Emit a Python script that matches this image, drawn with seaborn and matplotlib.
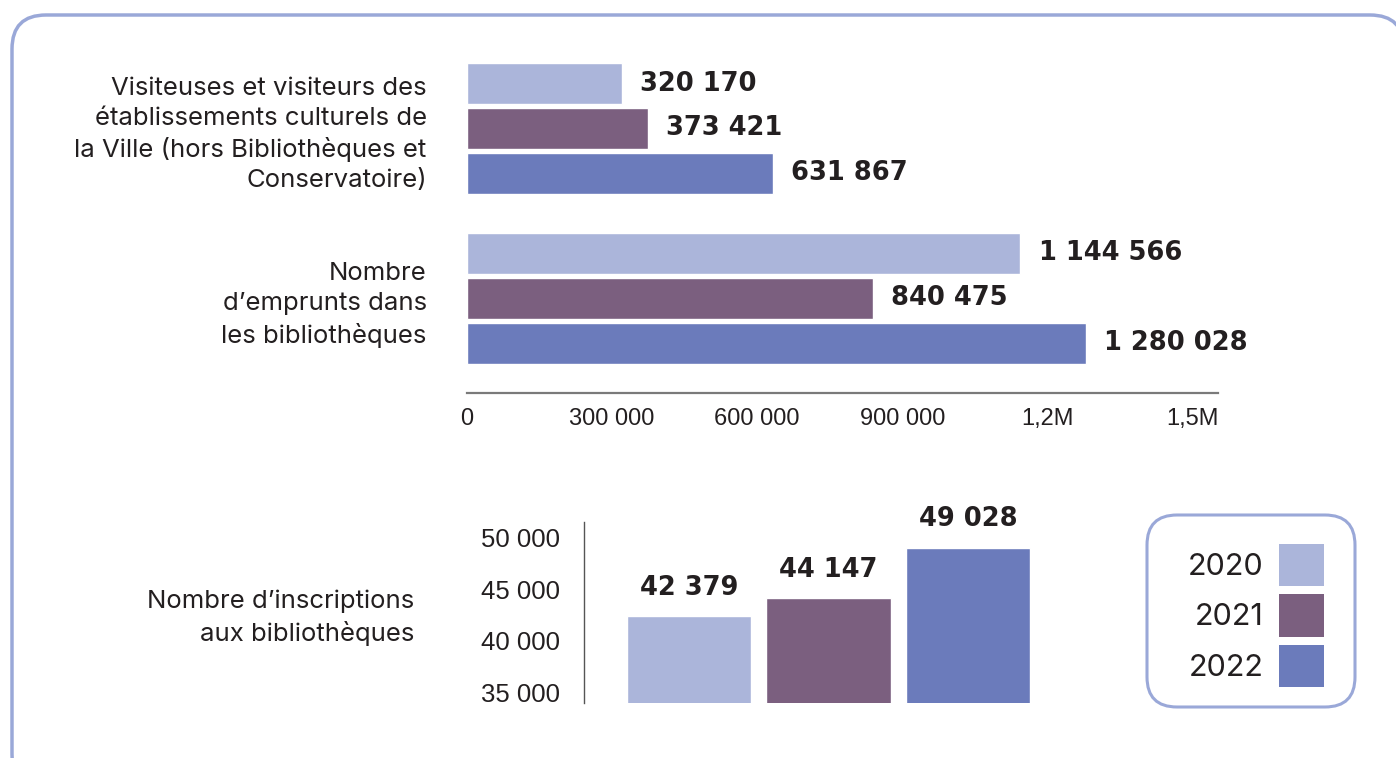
import matplotlib
matplotlib.use("Agg")
import matplotlib.pyplot as plt
import seaborn as sns
import pandas as pd
from matplotlib.patches import FancyBboxPatch, Patch
from matplotlib.transforms import IdentityTransform

# ---- data -------------------------------------------------------------
years = ["2020", "2021", "2022"]
colors = ["#abb5da", "#7b5f7f", "#6b7bbb"]

top_categories = [
    "Visiteuses et visiteurs des\nétablissements culturels de\nla Ville (hors Bibliothèques et\nConservatoire)",
    "Nombre\nd’emprunts dans\nles bibliothèques",
]
visitors = [320170, 373421, 631867]
loans = [1144566, 840475, 1280028]

top_ticks = [0, 300000, 600000, 900000, 1200000, 1500000]
top_tick_labels = ["0", "300 000", "600 000", "900 000", "1,2M", "1,5M"]

registrations_label = "Nombre d’inscriptions\naux bibliothèques"
registrations = [42379, 44147, 49028]
bottom_ticks = [35000, 40000, 45000, 50000]
bottom_tick_labels = ["35 000", "40 000", "45 000", "50 000"]


def fr(v):
    return f"{v:,}".replace(",", " ")


# ---- style ------------------------------------------------------------
sns.set_theme(style="white")
TEXT = "#231f20"
FRAME = "#9aa8d8"
LABEL_FONT = ["Inter", "DejaVu Sans"]
NUM_FONT = ["Liberation Sans", "DejaVu Sans"]
VALUE_FONT = ["DejaVu Sans"]
plt.rcParams["font.family"] = LABEL_FONT
plt.rcParams["text.color"] = TEXT
CAT_SIZE = 18.5
CAT_SPACING = 1.39

W, H = 1396, 758
fig = plt.figure(figsize=(W / 100, H / 100), dpi=100)
fig.patch.set_facecolor("white")

# ---- outer frame (filled white, behind everything) ---------------------
fig.add_artist(FancyBboxPatch((12, -30), 1392, H - 15 + 30,
                              boxstyle="round,pad=0,rounding_size=34",
                              transform=IdentityTransform(), facecolor="white",
                              edgecolor=FRAME, linewidth=2.5, zorder=-5))

# ---- top chart: horizontal grouped bars -------------------------------
top_df = pd.DataFrame({
    "category": [top_categories[0]] * 3 + [top_categories[1]] * 3,
    "year": years * 2,
    "value": visitors + loans,
})

ax1 = fig.add_axes([467 / W, 1 - 393 / H, (1218 - 467) / W, (393 - 43.5) / H])
ax1.patch.set_alpha(0)
sns.barplot(data=top_df, y="category", x="value", hue="year", hue_order=years,
            palette=colors, orient="h", width=0.794, gap=0.09, saturation=1,
            legend=False, ax=ax1)
ax1.set_xlim(0, 1553000)
ax1.set_ylim(1.556, -0.5)
ax1.set_xlabel("")
ax1.set_ylabel("")
for s in ["top", "right", "left"]:
    ax1.spines[s].set_visible(False)
ax1.spines["bottom"].set_color("#7a7a7a")
ax1.spines["bottom"].set_linewidth(1.6)
ax1.set_xticks(top_ticks)
ax1.set_xticklabels(top_tick_labels, fontsize=17, family=NUM_FONT, color=TEXT)
ax1.tick_params(axis="x", length=0, pad=11)
ax1.tick_params(axis="y", length=0, pad=29)
for t in ax1.get_yticklabels():
    t.set_fontsize(CAT_SIZE)
    t.set_color(TEXT)
    t.set_linespacing(CAT_SPACING)
for cont in ax1.containers:
    vals = [b.get_width() for b in cont]
    ax1.bar_label(cont, labels=[fr(int(round(v))) for v in vals], padding=13,
                  fontsize=18.5, fontweight="bold", family=VALUE_FONT, color=TEXT)

# ---- bottom chart: registrations --------------------------------------
bot_df = pd.DataFrame({"year": years, "value": registrations})
ax2 = fig.add_axes([584 / W, 1 - 703 / H, (1038 - 584) / W, (703 - 522) / H])
ax2.patch.set_alpha(0)
sns.barplot(data=bot_df, x="year", y="value", hue="year", hue_order=years,
            palette=colors, width=0.89, saturation=1, legend=False, ax=ax2)
ax2.set_ylim(34000, 51500)
ax2.set_xlim(-0.751, 2.5)
ax2.set_xlabel("")
ax2.set_ylabel("")
for s in ["top", "right", "bottom"]:
    ax2.spines[s].set_visible(False)
ax2.spines["left"].set_color("#555555")
ax2.spines["left"].set_linewidth(1.0)
ax2.set_xticks([])
ax2.set_yticks(bottom_ticks)
ax2.set_yticklabels(bottom_tick_labels, fontsize=18.5, family=NUM_FONT, color=TEXT)
ax2.tick_params(axis="y", length=0, pad=17)
for cont in ax2.containers:
    vals = [b.get_height() for b in cont]
    ax2.bar_label(cont, labels=[fr(int(round(v))) for v in vals], padding=11,
                  fontsize=18.5, fontweight="bold", family=VALUE_FONT, color=TEXT,
                  clip_on=False)

fig.text(414 / W, 1 - 618 / H, registrations_label, ha="right", va="center",
         fontsize=CAT_SIZE, linespacing=CAT_SPACING, color=TEXT)

# ---- legend -----------------------------------------------------------
fig.add_artist(FancyBboxPatch((1147, H - 707), 208, 192,
                              boxstyle="round,pad=0,rounding_size=30",
                              transform=IdentityTransform(), fill=False,
                              edgecolor=FRAME, linewidth=2.2))
handles = [Patch(facecolor=c, edgecolor="none", label=y) for y, c in zip(years, colors)]
fig.legend(handles=handles, loc="center", bbox_to_anchor=(1256 / W, 1 - 615.5 / H),
           frameon=False, markerfirst=False, fontsize=22, handlelength=1.47,
           handleheight=1.76, labelspacing=0.26, handletextpad=0.5, borderpad=0)

fig.savefig("out.png", dpi=100, facecolor="white")
